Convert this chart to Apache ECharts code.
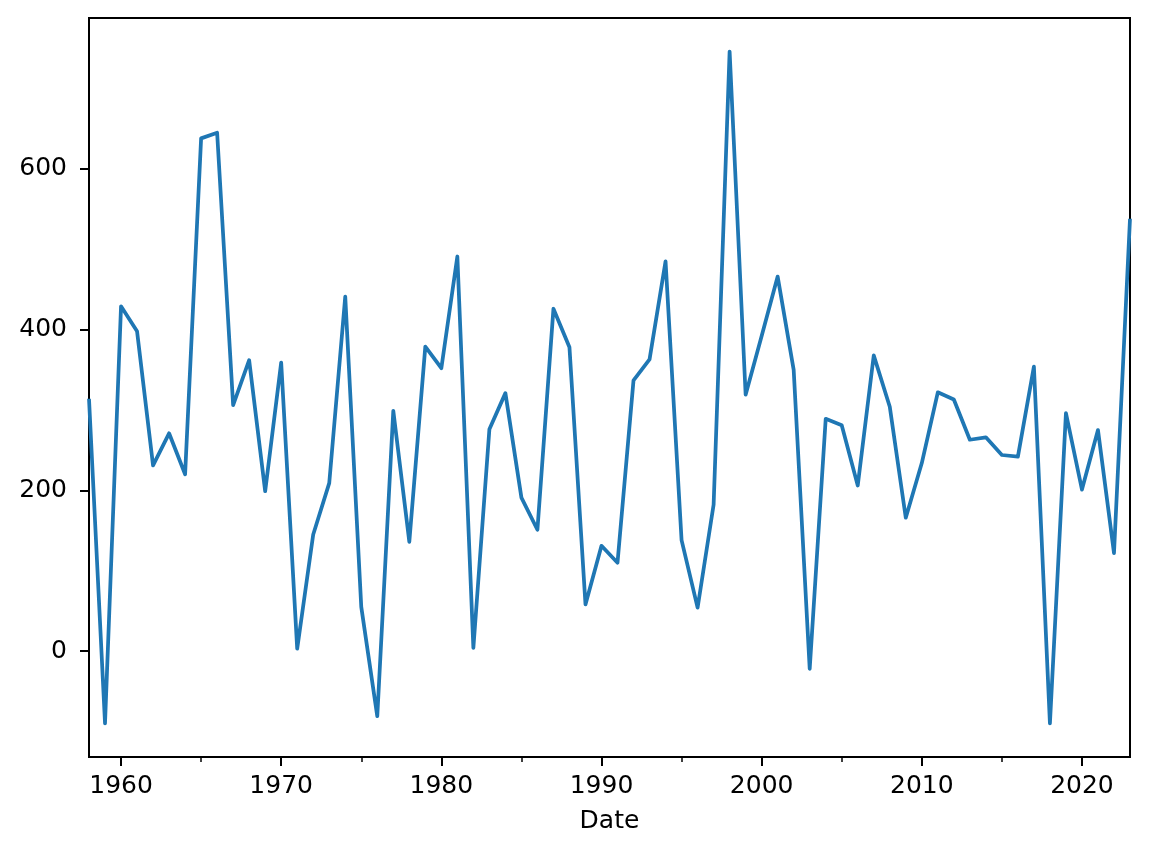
<!DOCTYPE html>
<html>
<head>
<meta charset="utf-8">
<script src="https://cdn.jsdelivr.net/npm/echarts@6/dist/echarts.min.js"></script>
<style>
html,body{margin:0;padding:0;background:#fff;}
#chart{width:1149px;height:858px;}
</style>
</head>
<body>
<div id="chart"></div>
<script>
const years = [1958,1959,1960,1961,1962,1963,1964,1965,1966,1967,1968,1969,1970,1971,1972,1973,1974,1975,1976,1977,1978,1979,1980,1981,1982,1983,1984,1985,1986,1987,1988,1989,1990,1991,1992,1993,1994,1995,1996,1997,1998,1999,2000,2001,2002,2003,2004,2005,2006,2007,2008,2009,2010,2011,2012,2013,2014,2015,2016,2017,2018,2019,2020,2021,2022,2023];
const values = [314,-90,429,398,231,271,220,638,645,306,362,199,359,3,145,209,441,55,-81,299,136,379,352,491,4,276,321,191,151,426,378,58,131,110,337,363,485,138,54,182,746,319,392,466,350,-22,289,281,206,368,304,166,234,322,313,263,266,244,242,354,-90,296,201,275,122,538];
const yTicks = [0,200,400,600];
const xMajorTicks = [1960,1970,1980,1990,2000,2010,2020];
const xMinorTicks = [1965,1975,1985,1995,2005,2015];
const axisName = 'Date';

const font = 'DejaVu Sans';
const chart = echarts.init(document.getElementById('chart'), null, {renderer:'canvas'});
const xMin = 1958, xMax = 2023, yMin = -131.8, yMax = 787.8;
chart.setOption({
  animation:false,
  backgroundColor:'#ffffff',
  grid:{left:89,right:19,top:18,bottom:101,show:true,borderColor:'#000',borderWidth:2,backgroundColor:'transparent'},
  xAxis:[{
    type:'value',min:xMin,max:xMax,
    name:axisName,nameLocation:'middle',nameGap:52,
    nameTextStyle:{fontFamily:font,fontSize:25,color:'#000'},
    axisLine:{show:true,onZero:false,lineStyle:{color:'#000',width:2}},
    axisTick:{show:true,length:9,lineStyle:{color:'#000',width:2},customValues:xMajorTicks},
    axisLabel:{show:true,fontFamily:font,fontSize:25,color:'#000',margin:17,customValues:xMajorTicks,formatter:v=>String(v)},
    splitLine:{show:false}
  },{
    type:'value',min:xMin,max:xMax,position:'bottom',
    axisLine:{show:false,onZero:false},
    axisTick:{show:true,length:5,lineStyle:{color:'#000',width:1.5},customValues:xMinorTicks},
    axisLabel:{show:false},
    splitLine:{show:false}
  }],
  yAxis:{
    type:'value',min:yMin,max:yMax,
    axisLine:{show:true,onZero:false,lineStyle:{color:'#000',width:2}},
    axisTick:{show:true,length:9,lineStyle:{color:'#000',width:2},customValues:yTicks},
    axisLabel:{show:true,fontFamily:font,fontSize:25,color:'#000',margin:22,customValues:yTicks,formatter:v=>String(v)},
    splitLine:{show:false}
  },
  series:[{
    type:'line',
    data:years.map((y,i)=>[y,values[i]]),
    showSymbol:false,
    lineStyle:{color:'#1f77b4',width:3.75,join:'round'},
    itemStyle:{color:'#1f77b4'},
    clip:true
  }]
});
</script>
</body>
</html>
